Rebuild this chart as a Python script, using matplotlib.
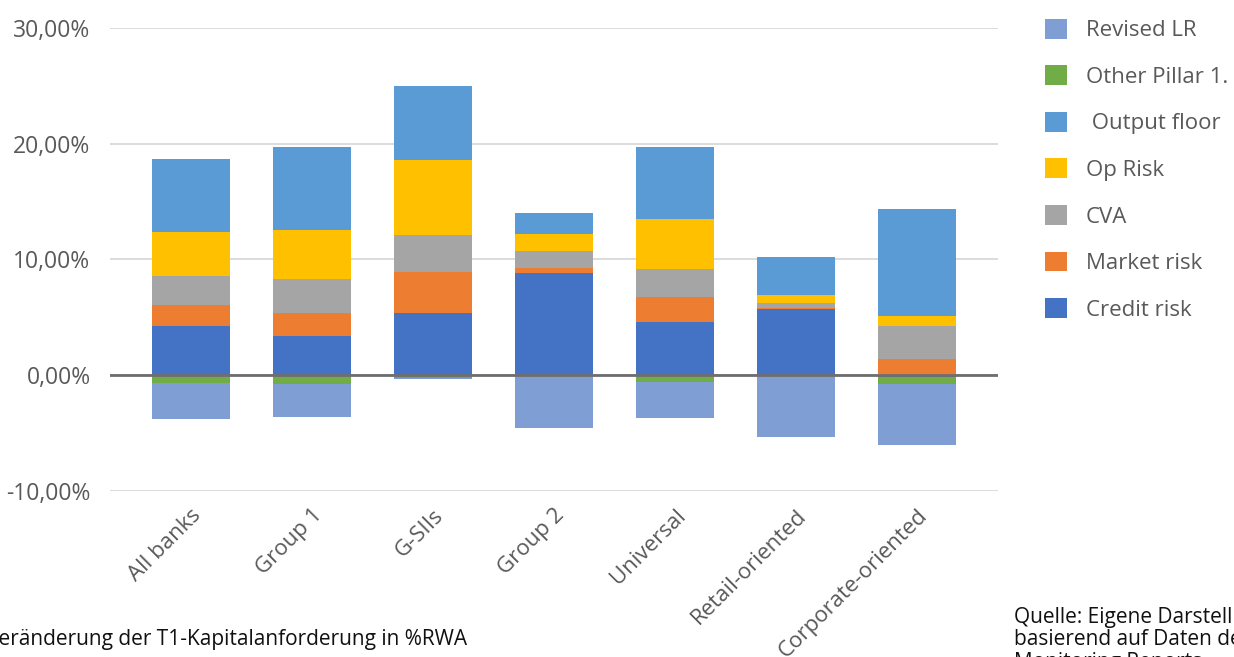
import matplotlib.pyplot as plt
import numpy as np

plt.rcParams['font.family'] = ['Open Sans', 'DejaVu Sans']

categories = ["All banks", "Group 1", "G-SIIs", "Group 2", "Universal",
              "Retail-oriented", "Corporate-oriented"]

# values in % of RWA
credit_risk  = [4.26, 3.40, 5.38, 8.84, 4.64, 5.73, -0.15]
market_risk  = [1.85, 1.98, 3.52, 0.43, 2.12, 0.05, 1.36]
cva          = [2.50, 2.94, 3.25, 1.44, 2.45, 0.46, 2.93]
op_risk      = [3.75, 4.23, 6.42, 1.47, 4.26, 0.67, 0.81]
output_floor = [6.35, 7.14, 6.39, 1.84, 6.25, 3.28, 9.30]
other_pillar = [-0.63, -0.80, -0.20, 0.00, -0.60, 0.00, -0.63]
revised_lr   = [-3.17, -2.83, -0.15, -4.58, -3.09, -5.30, -5.27]

series = [
    ("Credit risk", credit_risk, "#4472C4"),
    ("Market risk", market_risk, "#ED7D31"),
    ("CVA", cva, "#A5A5A5"),
    ("Op Risk", op_risk, "#FFC000"),
    (" Output floor", output_floor, "#5B9BD5"),
    ("Other Pillar 1.", other_pillar, "#70AD47"),
    ("Revised LR", revised_lr, "#7F9ED4"),
]

fig = plt.figure(figsize=(12.34, 6.57), dpi=100)
ax = fig.add_axes([0.0891, 0.2527, 0.7196, 0.7047])

x = np.arange(len(categories))
pos_bottom = np.zeros(len(categories))
neg_bottom = np.zeros(len(categories))
handles = []
for name, vals, color in series:
    vals = np.array(vals)
    bottom = np.where(vals >= 0, pos_bottom, neg_bottom)
    b = ax.bar(x, vals, bottom=bottom, width=0.645, color=color, label=name, zorder=3)
    handles.append(b)
    pos_bottom += np.where(vals >= 0, vals, 0)
    neg_bottom += np.where(vals < 0, vals, 0)

ax.set_ylim(-10, 30)
ax.set_xlim(-0.669, 6.67)
ax.set_yticks([-10, 0, 10, 20, 30])
ax.set_yticklabels(["-10,00%", "0,00%", "10,00%", "20,00%", "30,00%"])
ax.yaxis.grid(True, color="#D9D9D9", linewidth=1.3, zorder=0)
ax.axhline(0, color="#6E6E6E", linewidth=2, zorder=4)
for s in ax.spines.values():
    s.set_visible(False)
ax.tick_params(axis="both", length=0, colors="#595959")
ax.tick_params(axis="y", pad=14, labelsize=16.5)
ax.set_xticks(x)
ax.set_xticklabels(categories, rotation=45, ha="right", rotation_mode="anchor")
ax.tick_params(axis="x", pad=10, labelsize=16)

fig.legend(handles[::-1], [s[0] for s in series][::-1],
           loc="upper left", bbox_to_anchor=(0.8468, 0.9715), frameon=False,
           borderpad=0, borderaxespad=0,
           fontsize=16, labelspacing=1.08, handlelength=1.0, handleheight=1.0,
           handletextpad=0.85, labelcolor="#595959")

fig.text(-0.011, 0.0183, "Veränderung der T1-Kapitalanforderung in %RWA",
         fontsize=15, color="#111111", va="baseline")
fig.text(0.822, 0.0761, "Quelle: Eigene Darstellung\nbasierend auf Daten der\nMonitoring Reports",
         fontsize=15, color="#111111", linespacing=1.08, va="top")

fig.savefig("out.png", dpi=100)
